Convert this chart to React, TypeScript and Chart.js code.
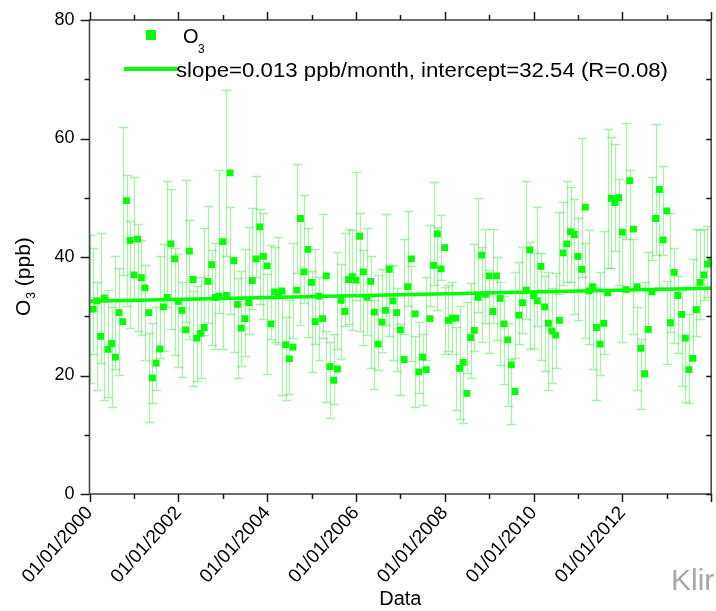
import { useEffect, useRef } from "react";
import { Chart, registerables } from "chart.js";

Chart.register(...registerables);

const FONT = '"Liberation Sans", Arial, Helvetica, sans-serif';
const GREEN = "#00ff00";
const BAR_COLOR = "rgba(20, 215, 20, 0.36)";
const AXIS_COLOR = "#4a4a4a";

// Monthly mean O3 (ppb), January 2000 .. December 2013
const o3Mean = [
  31.2, 32.6, 26.6, 33.1, 24.4, 25.4, 23.1, 30.6, 29.1, 49.5,
  42.8, 37.0, 43.0, 36.5, 34.8, 30.6, 19.6, 22.1, 24.5, 31.6,
  33.2, 42.2, 39.7, 32.5, 31.0, 27.7, 41.0, 36.2, 26.3, 27.1,
  28.1, 35.9, 38.7, 33.2, 33.4, 42.6, 33.5, 54.2, 39.4, 32.0,
  28.0, 29.6, 32.3, 36.0, 39.7, 45.1, 40.1, 38.5, 28.7, 34.1,
  33.7, 34.3, 25.2, 22.8, 24.8, 34.4, 46.5, 37.5, 41.3, 35.7,
  29.1, 33.4, 29.6, 36.8, 21.5, 19.2, 21.1, 32.7, 30.8, 36.2,
  36.7, 36.1, 43.5, 37.5, 33.2, 35.9, 30.7, 25.3, 29.0, 31.0,
  37.9, 32.6, 30.6, 27.7, 22.7, 35.0, 39.7, 30.4, 20.6, 23.1,
  21.0, 29.6, 38.6, 43.9, 38.0, 41.6, 29.3, 29.7, 29.7, 21.2,
  22.2, 17.0, 26.4, 27.6, 33.2, 40.3, 33.7, 36.8, 30.8, 36.8,
  33.0, 28.7, 26.0, 21.8, 17.3, 30.2, 32.3, 34.4, 41.2, 33.5,
  32.6, 38.4, 31.6, 28.8, 27.5, 26.8, 29.3, 40.7, 42.2, 44.3,
  43.8, 40.1, 37.9, 48.4, 34.3, 35.0, 28.1, 25.3, 28.8, 34.0,
  49.9, 49.2, 50.0, 44.2, 34.5, 52.9, 44.7, 35.0, 24.6, 20.3,
  27.8, 34.1, 46.5, 51.4, 42.9, 47.8, 28.9, 37.4, 33.5, 30.3,
  26.3, 21.0, 22.9, 31.1, 35.7, 37.0, 38.8, 39.2,
];

// Standard deviation of each monthly mean (ppb)
const o3Sd = [
  12.5, 9.0, 9.1, 11.0, 8.5, 9.0, 8.5, 9.5, 9.0, 12.5,
  11.0, 9.0, 10.5, 9.0, 8.0, 8.0, 7.5, 6.8, 7.0, 8.6,
  9.0, 10.6, 11.8, 9.0, 9.5, 8.0, 12.0, 10.0, 8.0, 8.0,
  8.5, 9.0, 9.9, 8.0, 9.0, 12.0, 9.0, 14.0, 9.0, 8.0,
  8.5, 8.0, 9.0, 9.0, 8.5, 8.5, 8.0, 9.0, 8.5, 8.0,
  8.0, 9.0, 8.5, 7.0, 8.0, 8.0, 9.2, 9.0, 9.1, 9.2,
  8.5, 8.0, 7.0, 10.5, 6.0, 6.4, 5.9, 8.2, 8.0, 7.8,
  8.0, 8.5, 10.8, 10.0, 8.0, 9.0, 9.5, 7.5, 8.0, 7.0,
  9.4, 6.0, 8.0, 7.0, 6.0, 8.0, 8.0, 8.0, 6.0, 6.0,
  6.0, 7.0, 6.8, 8.7, 7.0, 5.5, 5.6, 5.6, 6.0, 7.0,
  9.6, 5.0, 6.0, 8.0, 9.0, 9.6, 8.0, 8.0, 7.0, 8.0,
  7.0, 7.0, 7.5, 7.0, 5.5, 7.2, 6.9, 7.3, 11.6, 9.0,
  8.0, 10.0, 9.0, 8.0, 10.0, 8.0, 8.0, 6.9, 7.0, 8.5,
  8.0, 9.7, 8.6, 11.7, 8.0, 9.6, 7.0, 9.4, 8.7, 10.4,
  11.7, 11.0, 9.0, 9.0, 8.8, 9.8, 10.0, 8.0, 7.0, 5.9,
  8.0, 6.8, 7.0, 11.0, 8.0, 7.5, 7.0, 10.0, 8.0, 6.5,
  8.0, 5.5, 7.5, 8.5, 9.0, 7.5, 6.0, 6.0,
];

// Linear fit of the monthly series
const SLOPE = 0.013; // ppb per month
const INTERCEPT = 32.54; // ppb at January 2000
const R_VALUE = 0.08;

// Axis set-up: x is counted in months from 01/01/2000
const X_MIN = 0;
const X_MAX = 168;
const X_TICK_MONTHS = [0, 12, 24, 36, 48, 60, 72, 84, 96, 108, 120, 132, 144, 156, 168];
const X_LABEL_YEARS = [2000, 2002, 2004, 2006, 2008, 2010, 2012];
const Y_MIN = 0;
const Y_MAX = 80;
const Y_TICKS = [0, 10, 20, 30, 40, 50, 60, 70, 80];
const Y_LABELS = [0, 20, 40, 60, 80];

// Means are stamped at the end of their month, the SD column at its start
const MEAN_POS = o3Mean.map((_, i) => i + 1);
const SD_POS = o3Mean.map((_, i) => i);

const xLabelFor = (v: number) => {
  const yr = X_LABEL_YEARS.find((y) => (y - 2000) * 12 === v);
  return yr === undefined ? "" : `01/01/${yr}`;
};

const noPadding = (s: any) => {
  s.paddingLeft = 0;
  s.paddingRight = 0;
  s.paddingTop = 0;
  s.paddingBottom = 0;
};

const errorBars = {
  id: "errorBars",
  beforeDatasetsDraw(chart: any) {
    const { ctx, chartArea: a, scales } = chart;
    const xs = scales.x;
    const ys = scales.y;
    const cap = 4.5;
    ctx.save();
    ctx.beginPath();
    ctx.rect(a.left, a.top, a.right - a.left, a.bottom - a.top);
    ctx.clip();
    ctx.strokeStyle = BAR_COLOR;
    ctx.lineWidth = 1.3;
    o3Mean.forEach((v, i) => {
      const px = Math.round(xs.getPixelForValue(SD_POS[i])) + 0.5;
      const hi = Math.round(ys.getPixelForValue(v + o3Sd[i])) + 0.5;
      const lo = Math.round(ys.getPixelForValue(v - o3Sd[i])) + 0.5;
      ctx.beginPath();
      ctx.moveTo(px, hi);
      ctx.lineTo(px, lo);
      ctx.moveTo(px - cap, hi);
      ctx.lineTo(px + cap, hi);
      ctx.moveTo(px - cap, lo);
      ctx.lineTo(px + cap, lo);
      ctx.stroke();
    });
    ctx.restore();
  },
};

const frameAndLegend = {
  id: "frameAndLegend",
  afterDraw(chart: any) {
    const { ctx, chartArea: a, scales } = chart;
    const xs = scales.x;
    const ys = scales.y;
    const seg = (x1: number, y1: number, x2: number, y2: number) => {
      ctx.beginPath();
      ctx.moveTo(x1, y1);
      ctx.lineTo(x2, y2);
      ctx.stroke();
    };
    ctx.save();
    // frame
    ctx.strokeStyle = AXIS_COLOR;
    ctx.lineWidth = 1.6;
    ctx.strokeRect(a.left, a.top, a.right - a.left, a.bottom - a.top);
    // ticks
    ctx.strokeStyle = "#1a1a1a";
    ctx.lineWidth = 1.5;
    Y_TICKS.forEach((v) => {
      const py = Math.round(ys.getPixelForValue(v)) + 0.5;
      const len = Y_LABELS.includes(v) ? 9 : 5;
      seg(a.left - len, py, a.left, py);
      seg(a.right - 5, py, a.right, py);
    });
    X_TICK_MONTHS.forEach((m) => {
      const px = Math.round(xs.getPixelForValue(m)) + 0.5;
      const len = m % 24 === 0 ? 8 : 5;
      seg(px, a.bottom, px, a.bottom + len);
      seg(px, a.top - len, px, a.top);
    });

    // y-axis title with subscript
    ctx.fillStyle = "#000";
    ctx.textBaseline = "alphabetic";
    ctx.save();
    ctx.translate(30, 316);
    ctx.rotate(-Math.PI / 2);
    ctx.font = `21px ${FONT}`;
    ctx.fillText("O", 0, 0);
    let adv = ctx.measureText("O").width;
    ctx.font = `12px ${FONT}`;
    ctx.fillText("3", adv + 1, 5);
    adv += ctx.measureText("3").width + 1;
    ctx.font = `21px ${FONT}`;
    ctx.fillText(" (ppb)", adv, 0);
    ctx.restore();

    // legend
    ctx.fillStyle = GREEN;
    ctx.fillRect(146, 30, 10, 10);
    ctx.fillStyle = "#000";
    ctx.font = `20px ${FONT}`;
    ctx.fillText("O", 183, 43);
    ctx.font = `12px ${FONT}`;
    ctx.fillText("3", 198, 53);

    ctx.strokeStyle = GREEN;
    ctx.lineWidth = 4;
    seg(124, 69, 177, 69);
    const fitText = `slope=${SLOPE.toFixed(3)} ppb/month, intercept=${INTERCEPT.toFixed(2)} (R=${R_VALUE.toFixed(2)})`;
    ctx.font = `20px ${FONT}`;
    const w = ctx.measureText(fitText).width;
    ctx.save();
    ctx.translate(176, 77);
    ctx.scale(492 / w, 1);
    ctx.fillStyle = "#000";
    ctx.fillText(fitText, 0, 0);
    ctx.restore();
    ctx.restore();
  },
};

export default function App() {
  const ref = useRef<HTMLCanvasElement>(null);

  useEffect(() => {
    if (!ref.current) return;
    const means = o3Mean.map((v, i) => ({ x: MEAN_POS[i], y: v }));
    const fit = [X_MIN, X_MAX].map((m) => ({ x: m, y: INTERCEPT + SLOPE * m }));

    const chart = new Chart(ref.current, {
      type: "scatter",
      data: {
        datasets: [
          {
            label: "O3",
            data: means,
            pointStyle: "rect",
            pointRadius: 4.8,
            backgroundColor: GREEN,
            borderColor: GREEN,
            borderWidth: 0,
            order: 0,
          },
          {
            label: "fit",
            data: fit,
            showLine: true,
            borderColor: GREEN,
            borderWidth: 3.6,
            pointRadius: 0,
            order: 1,
          } as any,
        ],
      },
      options: {
        responsive: false,
        devicePixelRatio: 1,
        animation: false,
        events: [],
        layout: { padding: { left: 0, right: 2, top: 20, bottom: 0 } },
        plugins: { legend: { display: false }, tooltip: { enabled: false } },
        scales: {
          x: {
            type: "linear",
            min: X_MIN,
            max: X_MAX,
            afterFit: (s: any) => {
              s.height = 117;
              noPadding(s);
            },
            afterBuildTicks: (s: any) => {
              s.ticks = X_TICK_MONTHS.map((v) => ({ value: v }));
            },
            grid: { display: false, drawTicks: false, tickLength: 0 },
            border: { display: false },
            ticks: {
              autoSkip: false,
              minRotation: 48,
              maxRotation: 48,
              padding: 8,
              color: "#000",
              font: { family: FONT, size: 19 },
              callback: (v: any) => xLabelFor(Number(v)),
            },
            title: {
              display: true,
              text: "Data",
              color: "#000",
              font: { family: FONT, size: 20 },
              padding: { top: 0, bottom: 0 },
            },
          },
          y: {
            type: "linear",
            min: Y_MIN,
            max: Y_MAX,
            afterFit: (s: any) => {
              s.width = 89.5;
              noPadding(s);
            },
            afterBuildTicks: (s: any) => {
              s.ticks = Y_TICKS.map((v) => ({ value: v }));
            },
            grid: { display: false, drawTicks: false, tickLength: 0 },
            border: { display: false },
            ticks: {
              autoSkip: false,
              padding: 15,
              color: "#000",
              font: { family: FONT, size: 18 },
              callback: (v: any) => (Y_LABELS.includes(Number(v)) ? String(v) : ""),
            },
          },
        },
      },
      plugins: [errorBars, frameAndLegend],
    });
    return () => chart.destroy();
  }, []);

  return (
    <div
      style={{
        position: "fixed",
        left: 0,
        top: 0,
        width: 716,
        height: 611,
        overflow: "hidden",
        background: "#fff",
      }}
    >
      <canvas ref={ref} width={716} height={611} style={{ display: "block" }} />
      <div
        style={{
          position: "absolute",
          left: 671,
          top: 565,
          fontFamily: FONT,
          fontSize: 30,
          color: "#a8a8a8",
          whiteSpace: "nowrap",
          lineHeight: 1,
        }}
      >
        Klir
      </div>
    </div>
  );
}
